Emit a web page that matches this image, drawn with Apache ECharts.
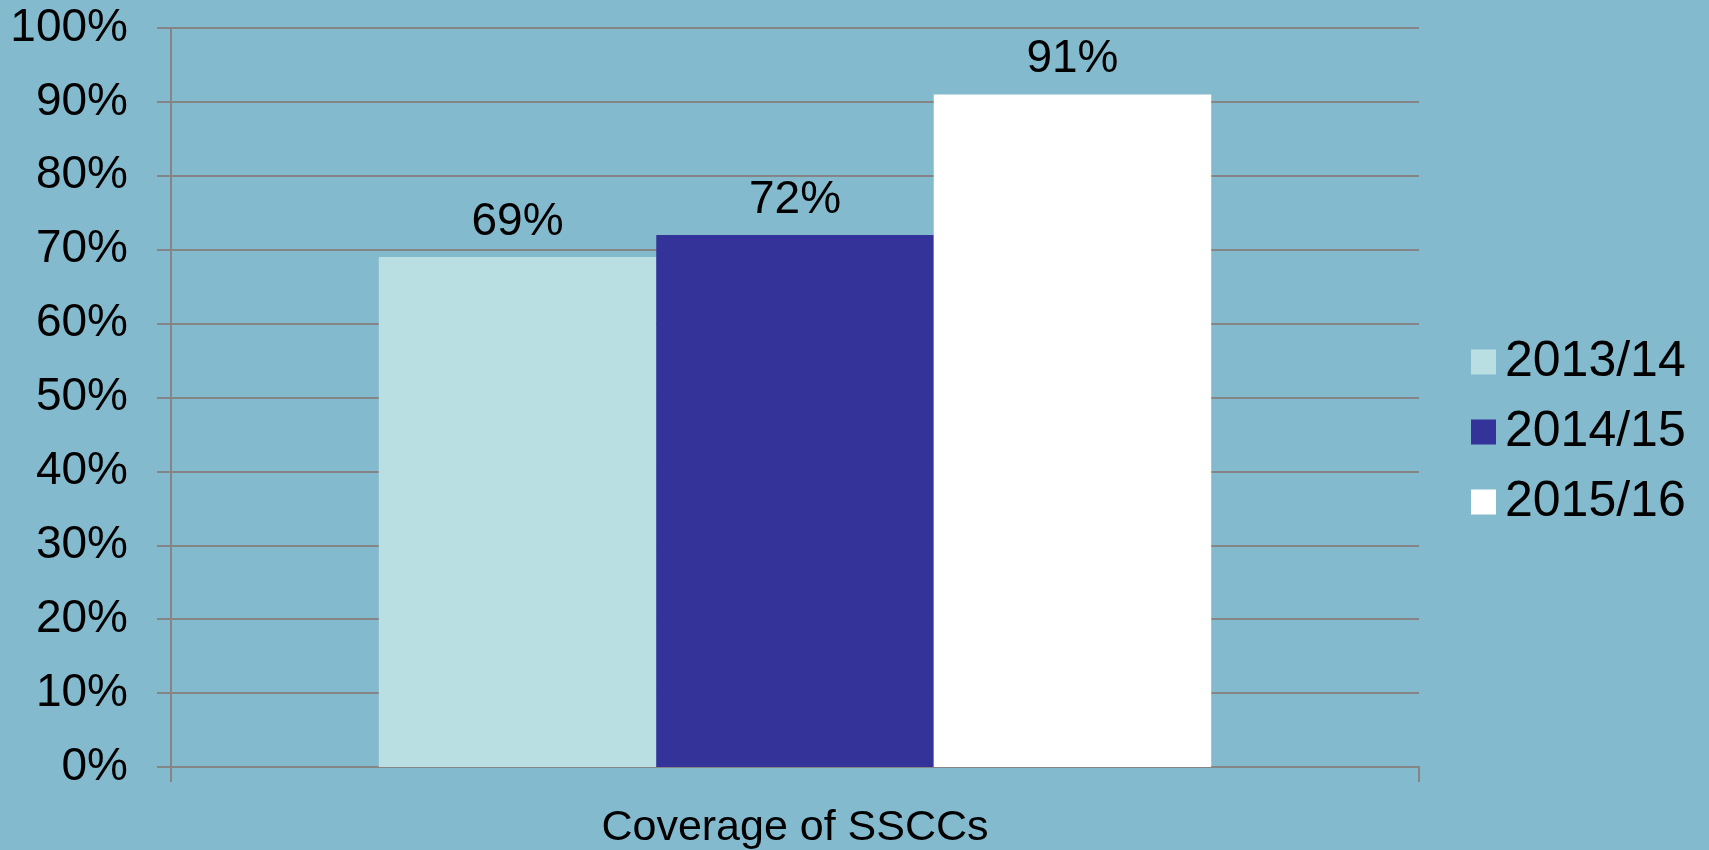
<!DOCTYPE html>
<html>
<head>
<meta charset="utf-8">
<script src="https://cdn.jsdelivr.net/npm/echarts@6/dist/echarts.min.js"></script>
<style>
    html, body { margin: 0; padding: 0; background: #84bacd; }
    #chart { width: 1709px; height: 850px; }
</style>
</head>
<body>
<div id="chart"></div>
<script>
    // data
    const categories = ['Coverage of SSCCs'];
    const seriesNames = ['2013/14', '2014/15', '2015/16'];
    const values2013 = [69];
    const values2014 = [72];
    const values2015 = [91];
    const colors = ['#b9dfe3', '#333399', '#ffffff'];

    const chart = echarts.init(document.getElementById('chart'));
    const font = 'Liberation Sans';

    function makeSeries(name, data) {
        return {
            name: name,
            type: 'bar',
            data: data,
            barGap: 0,
            barCategoryGap: '33.3%',
            label: {
                show: true,
                position: 'top',
                distance: 12,
                formatter: '{c}%',
                color: '#000',
                fontFamily: font,
                fontSize: 46
            }
        };
    }

    const option = {
        backgroundColor: '#84bacd',
        color: colors,
        animation: false,
        legend: {
            data: seriesNames,
            orient: 'vertical',
            left: 1466,
            top: 332,
            itemWidth: 25,
            itemHeight: 25,
            itemGap: 20,
            icon: 'rect',
            textStyle: {
                color: '#000',
                fontFamily: font,
                fontSize: 50,
                lineHeight: 48,
                padding: [0, 0, 0, 4]
            }
        },
        grid: {
            left: 171,
            right: 290,
            top: 28,
            bottom: 82
        },
        xAxis: {
            type: 'category',
            data: categories,
            axisLine: { lineStyle: { color: '#858585', width: 2 } },
            axisTick: { show: true, length: 15, lineStyle: { color: '#858585', width: 2 } },
            axisLabel: {
                color: '#000',
                fontFamily: font,
                fontSize: 43,
                margin: 40
            }
        },
        yAxis: {
            type: 'value',
            min: 0,
            max: 100,
            interval: 10,
            axisLine: { show: true, lineStyle: { color: '#858585', width: 2 } },
            axisTick: { show: true, length: 14, lineStyle: { color: '#858585', width: 2 } },
            splitLine: { lineStyle: { color: '#858585', width: 2 } },
            axisLabel: {
                formatter: '{value}%',
                color: '#000',
                fontFamily: font,
                fontSize: 46,
                margin: 43
            }
        },
        series: [
            makeSeries(seriesNames[0], values2013),
            makeSeries(seriesNames[1], values2014),
            makeSeries(seriesNames[2], values2015)
        ]
    };

    chart.setOption(option);
</script>
</body>
</html>
